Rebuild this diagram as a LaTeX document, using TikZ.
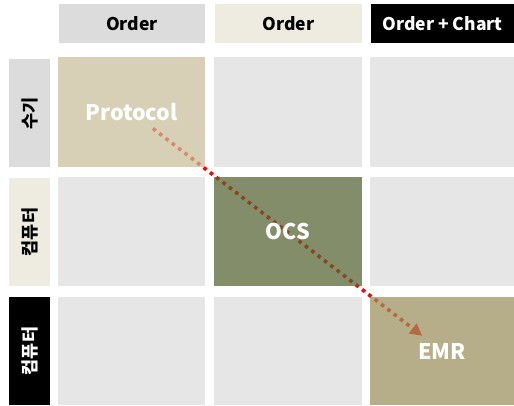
\documentclass[tikz,border=0pt]{standalone}
\usepackage{fontspec}
\setmainfont{Noto Sans CJK KR}
\usetikzlibrary{arrows.meta}
\definecolor{hdrgray}{RGB}{220,220,220}
\definecolor{hdrbeige}{RGB}{238,236,225}
\definecolor{cellgray}{RGB}{230,230,230}
\definecolor{protofill}{RGB}{200,191,155}
\definecolor{ocsfill}{RGB}{87,99,51}
\definecolor{emrfill}{RGB}{154,144,92}
\definecolor{flowred}{RGB}{255,0,0}
\pgfdeclarelayer{arrowlayer}
\pgfsetlayers{arrowlayer,main}
\tikzset{
  box/.style={anchor=north west, inner sep=0pt, outer sep=0pt, draw=none},
  colhead/.style={box, font=\bfseries\fontsize{17.5}{20}\selectfont},
  rowhead/.style={box},
  rowlabel/.style={rotate=90, font=\bfseries\fontsize{17.5}{20}\selectfont},
  cellbox/.style={box, fill=cellgray},
  keycell/.style={box, fill opacity=0.73, text opacity=1, text=white,
    font=\bfseries\fontsize{21.5}{25}\selectfont},
  flow/.style={draw=flowred, line width=3.6pt, dash pattern=on 3.6pt off 4.4pt,
    -{Triangle[length=12pt,width=12pt]}}
}
\begin{document}
\begin{tikzpicture}[x=1pt,y=-1pt]
\useasboundingbox (0,0) rectangle (514,405);

% column headers
\node[colhead, fill=hdrgray, minimum width=146pt, minimum height=39pt] (h1) at (59,4) {Order};
\node[colhead, fill=hdrbeige, minimum width=147pt, minimum height=39pt] (h2) at (215,4) {Order};
\node[colhead, fill=black, text=white, minimum width=143pt, minimum height=39pt] (h3) at (371,4) {Order + Chart};

% row headers
\node[rowhead, fill=hdrgray, minimum width=41pt, minimum height=108pt] (r1) at (9,59) {};
\node[rowlabel] (r1t) at (r1.center) {수기};
\node[rowhead, fill=hdrbeige, minimum width=41pt, minimum height=108pt] (r2) at (9,178) {};
\node[rowlabel] (r2t) at (r2.center) {컴퓨터};
\node[rowhead, fill=black, minimum width=41pt, minimum height=108pt] (r3) at (9,297) {};
\node[rowlabel, text=white] (r3t) at (r3.center) {컴퓨터};

% plain grid cells
\node[cellbox, minimum width=148pt, minimum height=110pt] (c12) at (214,57) {};
\node[cellbox, minimum width=144pt, minimum height=110pt] (c13) at (370,57) {};
\node[cellbox, minimum width=147pt, minimum height=109pt] (c21) at (58,177) {};
\node[cellbox, minimum width=144pt, minimum height=109pt] (c23) at (370,177) {};
\node[cellbox, minimum width=147pt, minimum height=108pt] (c31) at (58,297) {};
\node[cellbox, minimum width=148pt, minimum height=108pt] (c32) at (214,297) {};

% highlighted cells (semi-transparent over the flow arrow)
\node[keycell, fill=protofill, minimum width=147pt, minimum height=110pt] (proto) at (58,57) {Protocol};
\node[keycell, fill=ocsfill, minimum width=148pt, minimum height=109pt] (ocs) at (214,177) {OCS};
\node[keycell, fill=emrfill, minimum width=144pt, minimum height=108pt] (emr) at (370,297) {EMR};

% flow arrow beneath the cells
\begin{pgfonlayer}{arrowlayer}
\draw[flow, shorten <=27pt, shorten >=25pt] (proto.center) -- (emr.center);
\end{pgfonlayer}
\end{tikzpicture}
\end{document}
